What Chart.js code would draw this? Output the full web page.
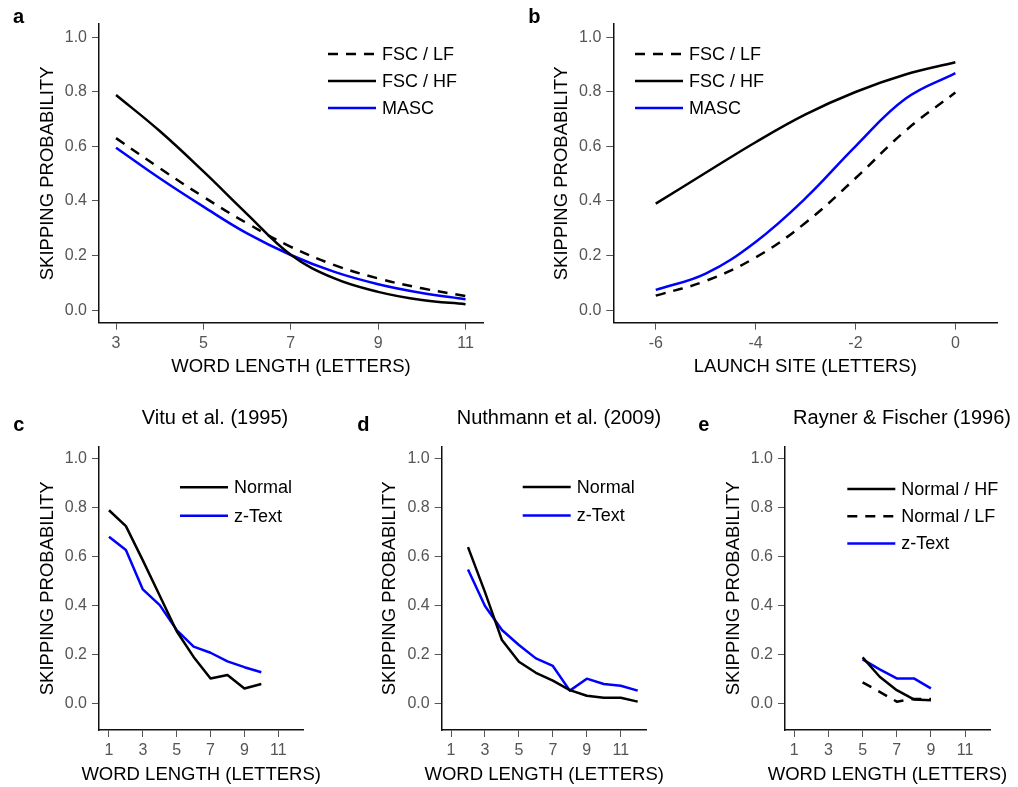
<!DOCTYPE html>
<html>
<head>
<meta charset="utf-8">
<script src="https://cdn.jsdelivr.net/npm/chart.js@4.4.1/dist/chart.umd.min.js"></script>
<style>
  body { margin: 0; background: #fff; }
  #wrap { position: relative; width: 1018px; height: 787px; }
  canvas { position: absolute; }
</style>
</head>
<body>
<div id="wrap">
  <canvas id="pa" width="500" height="390" style="left:0;top:0"></canvas>
  <canvas id="pb" width="518" height="390" style="left:500px;top:0"></canvas>
  <canvas id="pc" width="340" height="397" style="left:0;top:390px"></canvas>
  <canvas id="pd" width="340" height="397" style="left:340px;top:390px"></canvas>
  <canvas id="pe" width="338" height="397" style="left:680px;top:390px"></canvas>
</div>
<script>
// panel a: model predictions vs word length
const wordLenA = [3, 4, 5, 6, 7, 8, 9, 10, 11];
const aFscLF = [0.63, 0.52, 0.415, 0.318, 0.232, 0.165, 0.116, 0.080, 0.052];
const aFscHF = [0.788, 0.656, 0.508, 0.352, 0.203, 0.116, 0.067, 0.037, 0.022];
const aMasc = [0.595, 0.483, 0.379, 0.281, 0.202, 0.140, 0.095, 0.063, 0.040];

// panel b: model predictions vs launch site
const launchB = [-6, -5, -4, -3, -2, -1, 0];
const bFscLF = [0.053, 0.107, 0.193, 0.32, 0.483, 0.657, 0.797];
const bFscHF = [0.39, 0.503, 0.615, 0.717, 0.799, 0.863, 0.908];
const bMasc = [0.074, 0.134, 0.25, 0.41, 0.6, 0.774, 0.868];

// panel c: Vitu et al. (1995)
const wordLenC = [1, 2, 3, 4, 5, 6, 7, 8, 9, 10];
const cNormal = [0.790, 0.725, 0.585, 0.44, 0.295, 0.19, 0.102, 0.116, 0.061, 0.079];
const cZText = [0.682, 0.627, 0.466, 0.402, 0.30, 0.232, 0.207, 0.172, 0.148, 0.127];

// panel d: Nuthmann et al. (2009)
const wordLenD = [2, 3, 4, 5, 6, 7, 8, 9, 10, 11, 12];
const dNormal = [0.639, 0.455, 0.259, 0.170, 0.125, 0.093, 0.054, 0.031, 0.023, 0.023, 0.007];
const dZText = [0.548, 0.398, 0.30, 0.239, 0.184, 0.153, 0.052, 0.101, 0.079, 0.072, 0.052];

// panel e: Rayner & Fischer (1996)
const wordLenE = [5, 6, 7, 8, 9];
const eNormalHF = [0.188, 0.109, 0.054, 0.016, 0.013];
const eNormalLF = [0.086, 0.047, 0.007, 0.018, 0.018];
const eZText = [0.18, 0.139, 0.102, 0.102, 0.061];

// tick labels
const probTicks = [0, 0.2, 0.4, 0.6, 0.8, 1.0];
const xTicksA = [3, 5, 7, 9, 11];
const xTicksB = [-6, -4, -2, 0];
const xTicksLower = [1, 3, 5, 7, 9, 11];

const FONT = '"Liberation Sans", Arial, sans-serif';
const BLUE = '#0000ff';
const DASH = [10, 8];

Chart.defaults.font.family = FONT;

// letters, titles, axis titles and legend are drawn here
const decor = {
  id: 'decor',
  afterDraw(chart, args, o) {
    const ctx = chart.ctx;
    const ca = chart.chartArea;
    ctx.save();
    ctx.fillStyle = '#000';
    ctx.textBaseline = 'middle';

    ctx.font = 'bold 20px ' + FONT;
    ctx.textAlign = 'left';
    ctx.fillText(o.letter, o.letterX, o.letterY);

    if (o.title) {
      ctx.font = '20px ' + FONT;
      ctx.textAlign = 'center';
      ctx.fillText(o.title, o.titleX, o.titleY);
    }

    ctx.font = '18.5px ' + FONT;
    ctx.textAlign = 'center';
    ctx.fillText(o.xTitle, (ca.left + ca.right) / 2, ca.bottom + 44.5);
    ctx.save();
    ctx.translate(ca.left - 51.5, (ca.top + ca.bottom) / 2);
    ctx.rotate(-Math.PI / 2);
    ctx.fillText('SKIPPING PROBABILITY', 0, 0);
    ctx.restore();

    // legend
    chart.data.datasets.forEach((ds, i) => {
      const y = o.legY + i * o.legGap;
      ctx.strokeStyle = ds.borderColor;
      ctx.lineWidth = 2.5;
      ctx.setLineDash(ds.borderDash || []);
      ctx.beginPath();
      ctx.moveTo(o.legX, y);
      ctx.lineTo(o.legX + 48, y);
      ctx.stroke();
      ctx.setLineDash([]);
      ctx.textAlign = 'left';
      ctx.font = '18px ' + FONT;
      ctx.fillText(ds.label, o.legX + 54, y + 1);
    });
    ctx.restore();
  }
};

function series(label, xs, ys, color, dash, smooth) {
  return {
    label: label,
    data: xs.map((x, i) => ({ x: x, y: ys[i] })),
    borderColor: color,
    borderWidth: 2.5,
    borderDash: dash || [],
    borderJoinStyle: 'round',
    pointRadius: 0,
    fill: false,
    tension: smooth ? 0.4 : 0
  };
}

function axisStyle(min, max, ticks, fmt, isY) {
  return {
    type: 'linear',
    min: min,
    max: max,
    afterBuildTicks: s => { s.ticks = ticks.map(v => ({ value: v })); },
    afterFit: s => { if (isY) s.width = 60; else s.height = 50; },
    grid: { display: true, drawOnChartArea: false, drawTicks: true, tickLength: 7, color: '#555', lineWidth: 1 },
    border: { display: true, color: '#111', width: 1.5 },
    ticks: {
      color: '#555',
      font: { size: 16 },
      padding: isY ? 5 : 4,
      autoSkip: false,
      maxRotation: 0,
      callback: v => fmt(v)
    }
  };
}

function makePanel(id, datasets, pad, xr, yr, xTicks, deco) {
  return new Chart(document.getElementById(id), {
    type: 'line',
    data: { datasets: datasets },
    options: {
      responsive: false,
      animation: false,
      devicePixelRatio: 1,
      layout: { padding: pad },
      plugins: { legend: { display: false }, tooltip: { enabled: false }, decor: deco },
      scales: {
        x: axisStyle(xr[0], xr[1], xTicks, v => String(v), false),
        y: axisStyle(yr[0], yr[1], probTicks, v => v.toFixed(1), true)
      }
    },
    plugins: [decor]
  });
}

makePanel('pa', [
  series('FSC / LF', wordLenA, aFscLF, '#000', DASH, true),
  series('FSC / HF', wordLenA, aFscHF, '#000', null, true),
  series('MASC', wordLenA, aMasc, BLUE, null, true)
], { left: 39, right: 17, top: 24, bottom: 17.3 }, [2.61, 11.4], [-0.046, 1.048], xTicksA,
  { letter: 'a', letterX: 13, letterY: 17.5, xTitle: 'WORD LENGTH (LETTERS)', legX: 328, legY: 54, legGap: 27 });

makePanel('pb', [
  series('FSC / LF', launchB, bFscLF, '#000', DASH, true),
  series('FSC / HF', launchB, bFscHF, '#000', null, true),
  series('MASC', launchB, bMasc, BLUE, null, true)
], { left: 53.3, right: 20.7, top: 24, bottom: 17.3 }, [-6.85, 0.84], [-0.046, 1.048], xTicksB,
  { letter: 'b', letterX: 28.3, letterY: 17.5, xTitle: 'LAUNCH SITE (LETTERS)', legX: 135, legY: 54, legGap: 27 });

makePanel('pc', [
  series('Normal', wordLenC, cNormal, '#000'),
  series('z-Text', wordLenC, cZText, BLUE)
], { left: 39, right: 36.7, top: 56.7, bottom: 7 }, [0.41, 12.48], [-0.109, 1.05], xTicksLower,
  { letter: 'c', letterX: 13.3, letterY: 35, title: 'Vitu et al. (1995)', titleX: 215, titleY: 28,
    xTitle: 'WORD LENGTH (LETTERS)', legX: 180, legY: 97.3, legGap: 28.4 });

makePanel('pd', [
  series('Normal', wordLenD, dNormal, '#000'),
  series('z-Text', wordLenD, dZText, BLUE)
], { left: 41.7, right: 33.3, top: 56.7, bottom: 7 }, [0.45, 12.53], [-0.109, 1.05], xTicksLower,
  { letter: 'd', letterX: 17.3, letterY: 35, title: 'Nuthmann et al. (2009)', titleX: 219, titleY: 28,
    xTitle: 'WORD LENGTH (LETTERS)', legX: 182.7, legY: 97, legGap: 28.4 });

makePanel('pe', [
  series('Normal / HF', wordLenE, eNormalHF, '#000'),
  series('Normal / LF', wordLenE, eNormalLF, '#000', DASH),
  series('z-Text', wordLenE, eZText, BLUE)
], { left: 45, right: 28, top: 56.7, bottom: 7 }, [0.455, 12.46], [-0.109, 1.05], xTicksLower,
  { letter: 'e', letterX: 18.3, letterY: 35, title: 'Rayner & Fischer (1996)', titleX: 222, titleY: 28,
    xTitle: 'WORD LENGTH (LETTERS)', legX: 167.3, legY: 99, legGap: 27.2 });
</script>
</body>
</html>
